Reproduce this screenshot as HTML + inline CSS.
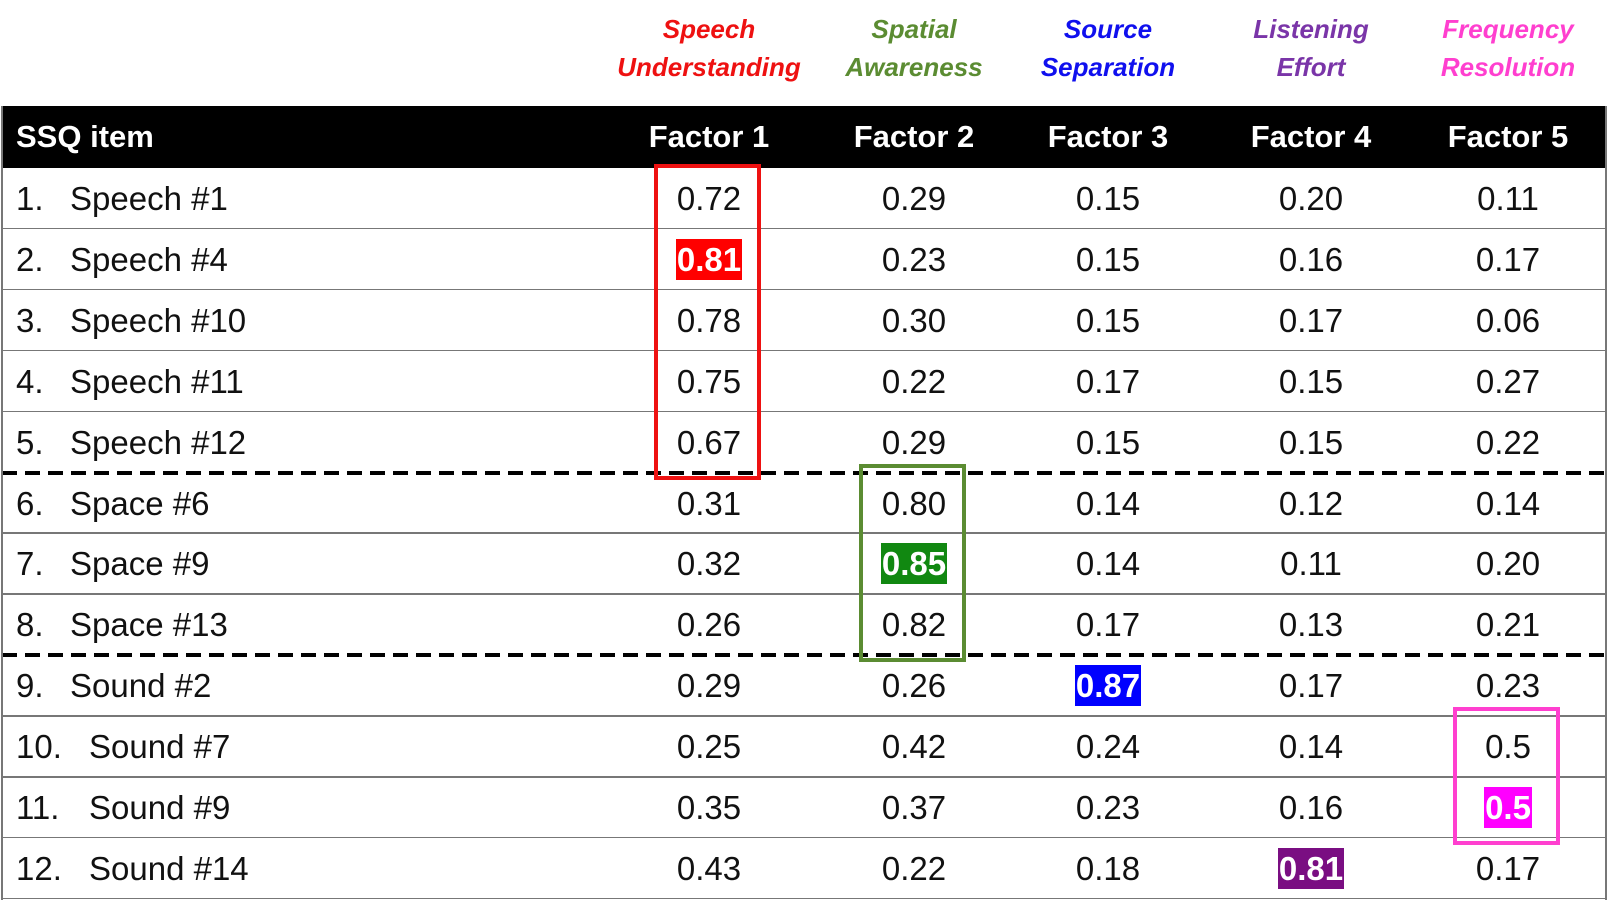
<!DOCTYPE html>
<html><head><meta charset="utf-8">
<style>
body{margin:0;width:1608px;height:913px;background:#fff;position:relative;overflow:hidden;font-family:"Liberation Sans",sans-serif;}
.a{position:absolute;box-sizing:border-box;}
.fl{position:absolute;width:200px;text-align:center;font-style:italic;font-weight:bold;font-size:26px;line-height:38px;}
.cell{position:absolute;width:180px;text-align:center;font-size:33px;line-height:61px;color:#111;}
.lab{position:absolute;font-size:33px;line-height:61px;color:#111;}
.hl{color:#fff;font-weight:bold;padding:2px 1px;}
.hd{position:absolute;color:#fff;font-weight:bold;font-size:31px;line-height:62px;}
</style></head><body>
<div id="root"></div>
<script>
const factorLabels=[["Speech","Understanding"],["Spatial","Awareness"],["Source","Separation"],["Listening","Effort"],["Frequency","Resolution"]];
const factorColors=["#ee1111","#5b8c32","#1010ee","#7a35a8","#ff3fcf"];
const items=["Speech #1","Speech #4","Speech #10","Speech #11","Speech #12","Space #6","Space #9","Space #13","Sound #2","Sound #7","Sound #9","Sound #14"];
const f1=["0.72","0.81","0.78","0.75","0.67","0.31","0.32","0.26","0.29","0.25","0.35","0.43"];
const f2=["0.29","0.23","0.30","0.22","0.29","0.80","0.85","0.82","0.26","0.42","0.37","0.22"];
const f3=["0.15","0.15","0.15","0.17","0.15","0.14","0.14","0.17","0.87","0.24","0.23","0.18"];
const f4=["0.20","0.16","0.17","0.15","0.15","0.12","0.11","0.13","0.17","0.14","0.16","0.81"];
const f5=["0.11","0.17","0.06","0.27","0.22","0.14","0.20","0.21","0.23","0.5","0.5","0.17"];
const highlights=[[1,0,"#ff0000"],[6,1,"#118811"],[8,2,"#0000ff"],[11,3,"#7a0e82"],[10,4,"#ff00ff"]];
const groupBreaks=[5,8];
const boxes=[[0,4,0,"#ee1111"],[5,7,1,"#5b8c32"],[9,10,4,"#ff3fcf"]];

const cols=[f1,f2,f3,f4,f5];
const colX=[709,914,1108,1311,1508];
const top0=168,rowH=60.9,L=2,R=1606;
const root=document.getElementById('root');
function mk(cls,txt){const d=document.createElement('div');d.className=cls;if(txt!==undefined)d.textContent=txt;root.appendChild(d);return d;}
factorLabels.forEach((fl,j)=>{
  const d=mk('fl');
  
  
  d.style.left=(colX[j]-100)+'px';d.style.top='10px';d.style.color=factorColors[j];
  d.innerHTML=fl[0]+'<br>'+fl[1];
});
const hb=mk('a');


hb.style.cssText='left:2px;top:106px;width:1604px;height:62px;background:#000';
const h0=mk('hd','SSQ item');


h0.style.left='16px';h0.style.top='106px';
colX.forEach((x,j)=>{
  const h=mk('hd','Factor '+(j+1));
  
  
  h.style.left=(x-90)+'px';h.style.width='180px';h.style.textAlign='center';h.style.top='106px';
});
items.forEach((it,i)=>{
  const y=top0+i*rowH;
  const n=mk('lab',(i+1)+'.');
  
  
  n.style.left='16px';n.style.top=y+'px';
  const t=mk('lab',it);
  
  
  t.style.left=(i>=9?89:70)+'px';t.style.top=y+'px';
  cols.forEach((c,j)=>{
    const d=mk('cell');
    
    
    d.style.left=(colX[j]-90)+'px';d.style.top=y+'px';
    const h=highlights.find(h=>h[0]===i&&h[1]===j);
    if(h){d.innerHTML='<span class="hl" style="background:'+h[2]+'">'+c[i]+'</span>';}
    else d.textContent=c[i];
  });
  const ly=top0+(i+1)*rowH;
  const ln=mk('a');
  
  
  if(groupBreaks.includes(i+1)){
    ln.style.cssText='left:2px;top:'+(ly-2)+'px;width:1604px;height:4px;background:repeating-linear-gradient(90deg,#000 0 15px,transparent 15px 23px)';
  }else{
    ln.style.cssText='left:2px;top:'+(ly-1)+'px;width:1604px;height:1.5px;background:#777';
  }
});
['left','right'].forEach(s=>{
  const b=mk('a');
  
  
  b.style.cssText=(s==='left'?'left:1px;':'left:1605px;')+'top:106px;width:1.5px;height:794px;background:#777';
});
boxes.forEach(b=>{
  const d=mk('a');
  
  
  const x=colX[b[2]];
  const t=Math.max(164,top0+b[0]*rowH-9);
  const bot=top0+(b[1]+1)*rowH+7;
  d.style.cssText='left:'+(x-55)+'px;top:'+t+'px;width:107px;height:'+(bot-t)+'px;border:4px solid '+b[3];
});
</script>
</body></html>
